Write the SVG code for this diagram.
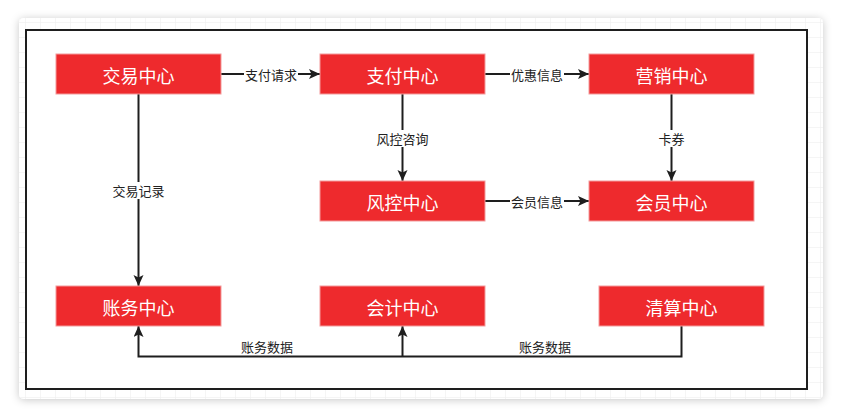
<svg xmlns="http://www.w3.org/2000/svg" width="842" height="418" viewBox="0 0 842 418">
  <defs>
    <pattern id="grid" x="10" y="7" width="15" height="15" patternUnits="userSpaceOnUse">
      <path d="M15,0 L0,0 L0,15" fill="none" stroke="#ebebeb" stroke-width="1"/>
    </pattern>
    <filter id="shadow" x="-5%" y="-10%" width="110%" height="120%">
      <feDropShadow dx="0" dy="1" stdDeviation="4" flood-color="#000" flood-opacity="0.22"/>
    </filter>
    <marker id="arrow" markerUnits="userSpaceOnUse" markerWidth="14" markerHeight="12" refX="11" refY="5" orient="auto">
      <path d="M0,0 L11,5 L0,10 L2.5,5 Z" fill="#1e1e1e"/>
    </marker>
    <style>
      .node rect { fill: #ee2a2d; stroke: #f39a9b; stroke-width: 1; }
      .node text { font-family: "Noto Sans CJK SC", "Noto Sans", sans-serif; font-size: 18px; fill: #ffffff; text-anchor: middle; dominant-baseline: central; }
      .edge { fill: none; stroke: #1e1e1e; stroke-width: 2; }
      .lbl { font-family: "Noto Sans CJK SC", "Noto Sans", sans-serif; font-size: 13px; fill: #222; text-anchor: middle; dominant-baseline: central; }
      .lblbg { fill: #ffffff; }
    </style>
  </defs>

  <rect x="0" y="0" width="842" height="418" fill="#ffffff"/>
  <!-- card -->
  <rect x="19" y="18" width="804" height="381" rx="5" fill="#ffffff" filter="url(#shadow)"/>
  <rect x="19" y="18" width="804" height="381" rx="5" fill="url(#grid)"/>
  <!-- frame -->
  <rect x="26" y="30" width="781" height="359" fill="#ffffff" stroke="#1e1e1e" stroke-width="2"/>

  <g id="connectors">
    <path class="edge" d="M221,74 L320,74" marker-end="url(#arrow)"/>
    <path class="edge" d="M485,74 L589,74" marker-end="url(#arrow)"/>
    <path class="edge" d="M402.5,94 L402.5,181" marker-end="url(#arrow)"/>
    <path class="edge" d="M671.5,94 L671.5,181" marker-end="url(#arrow)"/>
    <path class="edge" d="M485,201 L589,201" marker-end="url(#arrow)"/>
    <path class="edge" d="M138.5,94 L138.5,286" marker-end="url(#arrow)"/>
    <path class="edge" d="M681.5,326 L681.5,356.5 L138.5,356.5 L138.5,326" marker-end="url(#arrow)"/>
    <path class="edge" d="M402.5,356.5 L402.5,326" marker-end="url(#arrow)"/>

    <rect class="lblbg" x="244" y="66" width="54" height="16"/>
    <text class="lbl" x="271" y="74">支付请求</text>
    <rect class="lblbg" x="510" y="66" width="54" height="16"/>
    <text class="lbl" x="537" y="74">优惠信息</text>
    <rect class="lblbg" x="375" y="130" width="55" height="17"/>
    <text class="lbl" x="402.5" y="138.5">风控咨询</text>
    <rect class="lblbg" x="657" y="130" width="29" height="17"/>
    <text class="lbl" x="671.5" y="138.5">卡券</text>
    <rect class="lblbg" x="510" y="193" width="54" height="16"/>
    <text class="lbl" x="537" y="201">会员信息</text>
    <rect class="lblbg" x="111" y="182" width="55" height="17"/>
    <text class="lbl" x="138.5" y="190.5">交易记录</text>
    <text class="lbl" x="267" y="346.5">账务数据</text>
    <text class="lbl" x="545" y="346.5">账务数据</text>
  </g>

  <g id="node-jiaoyi" class="node"><rect x="56" y="54" width="165" height="40"/><text x="138.5" y="74.5">交易中心</text></g>
  <g id="node-zhifu" class="node"><rect x="320" y="54" width="165" height="40"/><text x="402.5" y="74.5">支付中心</text></g>
  <g id="node-yingxiao" class="node"><rect x="589" y="54" width="165" height="40"/><text x="671.5" y="74.5">营销中心</text></g>
  <g id="node-fengkong" class="node"><rect x="320" y="181" width="165" height="40"/><text x="402.5" y="201.5">风控中心</text></g>
  <g id="node-huiyuan" class="node"><rect x="589" y="181" width="165" height="40"/><text x="671.5" y="201.5">会员中心</text></g>
  <g id="node-zhangwu" class="node"><rect x="56" y="286" width="165" height="40"/><text x="138.5" y="306.5">账务中心</text></g>
  <g id="node-kuaiji" class="node"><rect x="320" y="286" width="165" height="40"/><text x="402.5" y="306.5">会计中心</text></g>
  <g id="node-qingsuan" class="node"><rect x="599" y="286" width="165" height="40"/><text x="681.5" y="306.5">清算中心</text></g>
</svg>
